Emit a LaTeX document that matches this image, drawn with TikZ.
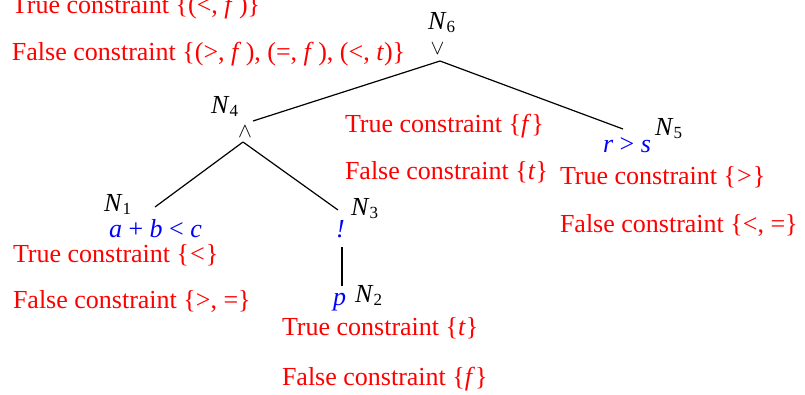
\documentclass[tikz,border=0pt]{standalone}
\usepackage{fontspec}
\setmainfont{Liberation Serif}
\begin{document}
\begin{tikzpicture}[x=1pt,y=-1pt,
  txt/.style={anchor=base west,inner sep=0pt,outer sep=0pt,font=\fontsize{26}{30}\selectfont},
  red txt/.style={txt,text=red},
  blue txt/.style={txt,text=blue},
  lbl/.style={txt,text=black},
  op/.style={anchor=center,inner sep=0pt,font=\fontsize{20}{22}\selectfont},
  edge/.style={draw=black,line width=1.2pt}]
\newcommand{\nsub}[1]{\textit{N}\raisebox{-3pt}{\fontsize{17}{17}\selectfont #1}}
\useasboundingbox (0,0) rectangle (805,394);
% top constraints (N6)
\node[red txt] (t6) at (12,13) {True constraint \{(<, \textit{f}\,)\}};
\node[red txt] (f6) at (12,60) {False constraint \{(>, \textit{f}\,), (=, \textit{f}\,), (<, \textit{t})\}};
% N6
\node[lbl] (N6) at (428,29) {\nsub{6}};
\node[op] (or6) at (437.5,48.5) {$\vee$};
% N4
\node[lbl] (N4) at (211,113) {\nsub{4}};
\node[op] (and4) at (245,132) {$\wedge$};
\node[red txt] (t4) at (345,132) {True constraint \{\textit{f}\}};
\node[red txt] (f4) at (345,179) {False constraint \{\textit{t}\}};
% N5
\node[blue txt] (e5) at (603,152) {\textit{r} > \textit{s}};
\node[lbl] (N5) at (655,135) {\nsub{5}};
\node[red txt] (t5) at (560,184) {True constraint \{\kern1pt>\kern1pt\}};
\node[red txt] (f5) at (560,232) {False constraint \{<, =\}};
% N1
\node[lbl] (N1) at (104,211) {\nsub{1}};
\node[blue txt] (e1) at (109,237) {\textit{a} + \textit{b} < \textit{c}};
\node[red txt] (t1) at (13,262) {True constraint \{\kern1pt<\kern1pt\}};
\node[red txt] (f1) at (13,308) {False constraint \{>, =\}};
% N3
\node[lbl] (N3) at (351,215) {\nsub{3}};
\node[blue txt] (e3) at (336,237) {\textit{!}};
% N2
\node[blue txt] (e2) at (333,305) {\textit{p}};
\node[lbl] (N2) at (355,302) {\nsub{2}};
\node[red txt] (t2) at (282,335) {True constraint \{\textit{t}\}};
\node[red txt] (f2) at (282,385) {False constraint \{\textit{f}\}};
% connector end points
\coordinate (c6) at (440,61);
\coordinate (c4in) at (253,121);
\coordinate (c5in) at (623,129);
\coordinate (c4) at (243,142);
\coordinate (c1in) at (155,207);
\coordinate (c3in) at (338,210);
\coordinate (c3) at (342,247);
\coordinate (c2in) at (342,286);
% connectors
\draw[edge] (c6) -- (c4in);
\draw[edge] (c6) -- (c5in);
\draw[edge] (c4) -- (c1in);
\draw[edge] (c4) -- (c3in);
\draw[edge] (c3) -- (c2in);
\end{tikzpicture}
\end{document}
